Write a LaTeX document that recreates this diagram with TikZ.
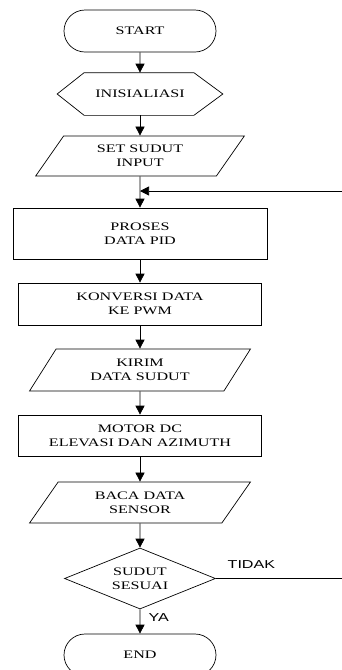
\documentclass[tikz,border=0pt]{standalone}
\usepackage{fontspec}
\setmainfont{Liberation Serif}[FakeStretch=1.4]
\newfontfamily\labelfont{Liberation Sans}[FakeStretch=1.4]
\usetikzlibrary{shapes.geometric,shapes.misc,arrows.meta}

\tikzstyle{term}=[rounded rectangle,draw,minimum width=152pt,minimum height=42pt,inner sep=0pt]
\tikzstyle{proc}=[rectangle,draw,minimum width=243pt,minimum height=42pt,align=center,inner sep=0pt]
\tikzstyle{io}=[trapezium,trapezium left angle=54,trapezium right angle=126,trapezium stretches=true,draw,minimum width=221pt,minimum height=41pt,align=center,inner sep=0pt]
\tikzstyle{hexa}=[rectangle,minimum width=165pt,minimum height=42pt,inner sep=0pt]
\tikzstyle{dec}=[diamond,aspect=2.5,draw,minimum width=151pt,minimum height=61pt,align=center,inner sep=0pt]
\tikzstyle{flow}=[-{Triangle[length=9pt,width=9pt]}]

\begin{document}
\begin{tikzpicture}[x=1pt,y=-1pt,line width=0.7pt,font=\fontsize{11.5}{14}\selectfont]
        \useasboundingbox (0,0) rectangle (342,670);
        \draw (140,31) node[term](start){START};
        \draw (140,94) node[hexa](init){INISIALIASI};
        \draw (140,156) node[io,minimum width=209pt,minimum height=40pt](set){SET SUDUT\\INPUT};
        \draw (140,233.5) node[proc,minimum width=254pt,minimum height=51pt](pid){PROSES\\DATA PID};
        \draw (140,304) node[proc](pwm){KONVERSI DATA\\KE PWM};
        \draw (140,370) node[io,minimum height=42pt](kirim){KIRIM\\DATA SUDUT};
        \draw (140,435.5) node[proc,minimum height=41pt](motor){MOTOR DC\\ELEVASI DAN AZIMUTH};
        \draw (140,502.5) node[io](baca){BACA DATA\\SENSOR};
        \draw (140,578.5) node[dec](cek){SUDUT\\SESUAI};
        \draw (140,655) node[term](end){END};
        %
        \draw (init.west) -- ([xshift=27pt]init.north west) -- ([xshift=-29pt]init.north east)
            -- (init.east) -- ([xshift=-29pt]init.south east) -- ([xshift=27pt]init.south west) -- cycle;
        %
        \coordinate (back) at (342,191);
        \coordinate (loop) at (342,578.5);
        \draw[flow] (start) -- (init);
        \draw[flow] (init) -- (set);
        \draw[flow] (set) -- (pid);
        \draw[flow] (back) -- (back -| pid);
        \draw[flow] (pid) -- (pwm);
        \draw[flow] (pwm) -- (kirim);
        \draw[flow] (kirim) -- (motor);
        \draw[flow] (motor) -- (baca);
        \draw[flow] (baca) -- (cek);
        \draw[flow] (cek) -- (end);
        \draw (cek.east) -- (loop);
        \node[anchor=base west,font=\labelfont\fontsize{11.5}{14}\selectfont](tidak) at (224,568){TIDAK};
        \node[anchor=base west,font=\labelfont\fontsize{11.5}{14}\selectfont](ya) at (145,621){YA};
      \end{tikzpicture}
\end{document}
